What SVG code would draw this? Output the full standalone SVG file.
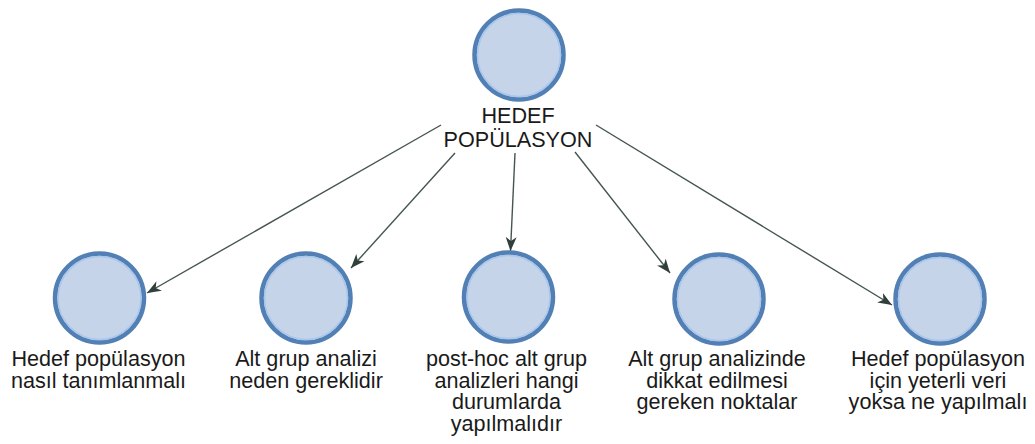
<svg xmlns="http://www.w3.org/2000/svg" width="1035" height="444" viewBox="0 0 1035 444">
<defs>
<style>
.node circle.main{fill:#c5d4e9;stroke:#5280b5;stroke-width:4.5}
.node circle.ring{fill:none;stroke:#a9c6ec;stroke-width:1.5}
.lbl{font-family:"Liberation Sans",Arial,sans-serif;font-size:21.6px;fill:#1a1a1a;text-anchor:middle}
.edge{stroke:#45554f;stroke-width:1.4;fill:none;marker-end:url(#arr)}
</style>
<marker id="arr" viewBox="-14 -6 15 12" refX="0" refY="0" markerWidth="15" markerHeight="12" markerUnits="userSpaceOnUse" orient="auto">
<path d="M0,0 L-14,-5.5 L-10,0 L-14,5.5 Z" fill="#2f3f3a"/>
</marker>
</defs>
<rect width="1035" height="444" fill="#ffffff"/>
<g id="connectors">
<line class="edge" x1="441" y1="125" x2="147" y2="293"/>
<line class="edge" x1="455" y1="153" x2="351" y2="268"/>
<line class="edge" x1="515" y1="153" x2="510.5" y2="251"/>
<line class="edge" x1="575" y1="152" x2="670" y2="273"/>
<line class="edge" x1="596" y1="125" x2="892" y2="305"/>
</g>
<g id="n0" class="node">
<circle class="main" cx="519" cy="55" r="44.5"/>
<circle class="ring" cx="519" cy="55" r="41.5"/>
<text class="lbl" x="518" y="123">HEDEF</text>
<text class="lbl" x="518" y="147">POPÜLASYON</text>
</g>
<g id="n1" class="node">
<circle class="main" cx="99.5" cy="298" r="44.5"/>
<circle class="ring" cx="99.5" cy="298" r="41.5"/>
<text class="lbl" x="98.5" y="366">Hedef popülasyon</text>
<text class="lbl" x="98.5" y="387.5">nasıl tanımlanmalı</text>
</g>
<g id="n2" class="node">
<circle class="main" cx="306" cy="298" r="44.5"/>
<circle class="ring" cx="306" cy="298" r="41.5"/>
<text class="lbl" x="306" y="366">Alt grup analizi</text>
<text class="lbl" x="306" y="387.5">neden gereklidir</text>
</g>
<g id="n3" class="node">
<circle class="main" cx="508.5" cy="297" r="44.5"/>
<circle class="ring" cx="508.5" cy="297" r="41.5"/>
<text class="lbl" x="506.5" y="366">post-hoc alt grup</text>
<text class="lbl" x="506.5" y="387.5">analizleri hangi</text>
<text class="lbl" x="506.5" y="409">durumlarda</text>
<text class="lbl" x="506.5" y="430.5">yapılmalıdır</text>
</g>
<g id="n4" class="node">
<circle class="main" cx="719" cy="299" r="44.5"/>
<circle class="ring" cx="719" cy="299" r="41.5"/>
<text class="lbl" x="717" y="366">Alt grup analizinde</text>
<text class="lbl" x="717" y="387.5">dikkat edilmesi</text>
<text class="lbl" x="717" y="409">gereken noktalar</text>
</g>
<g id="n5" class="node">
<circle class="main" cx="940" cy="299" r="44.5"/>
<circle class="ring" cx="940" cy="299" r="41.5"/>
<text class="lbl" x="938" y="366">Hedef popülasyon</text>
<text class="lbl" x="938" y="387.5">için yeterli veri</text>
<text class="lbl" x="938" y="409">yoksa ne yapılmalı</text>
</g>
</svg>
